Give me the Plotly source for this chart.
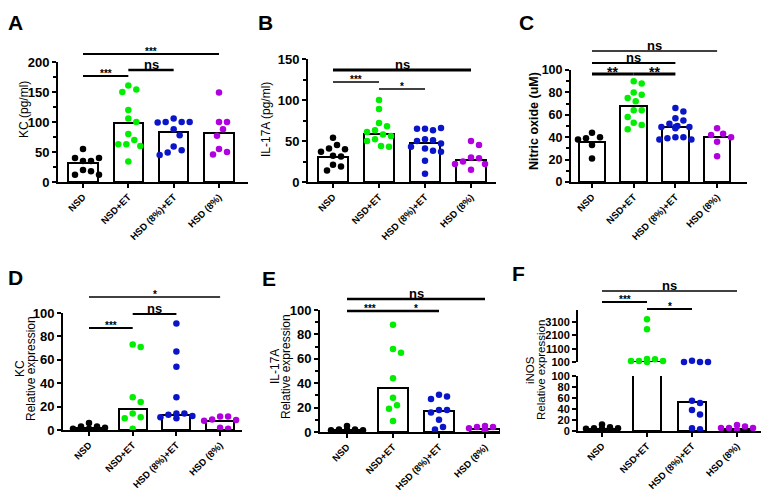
import plotly.graph_objects as go

W, H = 769, 491
FONT = "Liberation Sans, Arial, sans-serif"

groups = ["NSD", "NSD+ET", "HSD (8%)+ET", "HSD (8%)"]
group_colors = ["#000000", "#00ee00", "#0a14c8", "#b000e0"]

# ---------------- data ----------------
# A: KC (pg/ml)
kc_pg_nsd = [55, 35, 35, 40, 40, 20, 18, 12, 12]
kc_pg_nsd_et = [161, 154, 150, 120, 106, 100, 80, 70, 63, 63, 60, 34]
kc_pg_hsd_et = [106, 100, 100, 100, 99, 88, 78, 59, 53, 49, 45]
kc_pg_hsd = [149, 100, 100, 88, 77, 55, 50, 46]
kc_pg_bars = [32, 99, 83, 82]

# B: IL-17A (pg/ml)
il17_pg_nsd = [54, 45, 41, 40, 37, 32, 31, 21, 19, 14]
il17_pg_nsd_et = [100, 89, 72, 68, 63, 61, 58, 56, 52, 50, 44, 43]
il17_pg_hsd_et = [65, 63, 65, 66, 52, 51, 50, 47, 43, 41, 38, 37, 26, 10]
il17_pg_hsd = [50, 45, 30, 29, 25, 22, 22, 15]
il17_pg_bars = [31, 58, 47, 27]

# C: Nitric oxide (uM)
no_nsd = [44, 40, 39, 38, 33, 21]
no_nsd_et = [90, 88, 80, 78, 75, 72, 64, 64, 58, 53, 51, 47]
no_hsd_et = [66, 63, 57, 55, 52, 50, 49, 49, 49, 48, 40, 40, 39, 38, 38]
no_hsd = [48, 43, 42, 40, 36, 23]
no_bars = [36, 68, 49, 40]

# D: KC relative expression
kc_rel_nsd = [6, 3, 3, 2, 1, 1]
kc_rel_nsd_et = [73, 71, 28, 24, 14, 11, 10, 1]
kc_rel_hsd_et = [91, 67, 54, 28, 14, 14, 13, 12, 11, 10]
kc_rel_hsd = [11.5, 11.5, 9, 8.5, 8, 2, 1]
kc_rel_bars = [2, 18, 13, 7.7]

# E: IL-17A relative expression
il17_rel_nsd = [5, 2, 2, 1.5, 1.5, 1, 1, 1.5, 1]
il17_rel_nsd_et = [88, 68, 65, 44, 28, 22, 19, 9]
il17_rel_hsd_et = [30.5, 29, 27, 18, 18, 16, 10, 4, 2]
il17_rel_hsd = [5, 4, 4, 3, 3, 2, 2, 1, 1]
il17_rel_bars = [1.5, 36, 17.5, 2.5]

# F: iNOS relative expression (broken axis)
inos_rel_nsd = [12, 7, 5, 5, 4, 4, 3, 2]
inos_rel_nsd_et = [3310, 2560, 320, 300, 175, 175, 175, 175, 105]
inos_rel_hsd_et = [200, 105, 105, 105, 55, 51, 38, 30, 5, 3]
inos_rel_hsd = [11, 8, 5.5, 5.5, 5.5, 2]
inos_rel_bars = [4, 120, 52, 4]

# ---------------- layout specs (pixels) ----------------
panels = [
    dict(letter="A", lpos=(15, 22), data=[kc_pg_nsd, kc_pg_nsd_et, kc_pg_hsd_et, kc_pg_hsd], bars=kc_pg_bars,
         x0=58, x1=248, c0=83, sp=45.33, segs=[(62, 182, 0, 200)], dtick=50, minor=25, tfs=13,
         title=["KC (pg/ml)"], tx=[24], ty=110, tsize=12, tbold=False,
         sig=[(0, 3, 54, "***", 2), (0, 1, 76, "***", 2), (1, 2, 70, "ns", 2.5)], star=10),
    dict(letter="B", lpos=(265, 22), data=[il17_pg_nsd, il17_pg_nsd_et, il17_pg_hsd_et, il17_pg_hsd], bars=il17_pg_bars,
         x0=308, x1=496, c0=333, sp=46, segs=[(59, 182, 0, 150)], dtick=50, minor=25, tfs=13,
         title=["IL-17A (pg/ml)"], tx=[266], ty=120, tsize=12, tbold=False,
         sig=[(0, 3, 70, "ns", 3), (0, 1, 82, "***", 1.5), (1, 2, 89, "*", 1.5)], star=10),
    dict(letter="C", lpos=(526, 22), data=[no_nsd, no_nsd_et, no_hsd_et, no_hsd], bars=no_bars,
         x0=571, x1=747, c0=592, sp=41.7, segs=[(70, 182, 0, 100)], dtick=20, minor=10, tfs=12.5,
         title=["Nitric oxide (uM)"], tx=[534], ty=121, tsize=12.5, tbold=True,
         sig=[(0, 3, 51, "ns", 1.5), (0, 2, 63, "ns", 2), (0, 1, 74, "**", 3), (1, 2, 74, "**", 3)], star=14),
    dict(letter="D", lpos=(15, 277), data=[kc_rel_nsd, kc_rel_nsd_et, kc_rel_hsd_et, kc_rel_hsd], bars=kc_rel_bars,
         x0=63, x1=242, c0=89, sp=43.7, segs=[(313, 430, 0, 100)], dtick=20, minor=None, tfs=13,
         title=["KC", "Relative expression"], tx=[20, 31], ty=369, tsize=12, tbold=False,
         sig=[(0, 3, 297, "*", 1.5), (0, 1, 328, "***", 2), (1, 2, 314, "ns", 2)], star=10),
    dict(letter="E", lpos=(269, 278), data=[il17_rel_nsd, il17_rel_nsd_et, il17_rel_hsd_et, il17_rel_hsd], bars=il17_rel_bars,
         x0=320, x1=500, c0=347, sp=46, segs=[(310, 432, 0, 100)], dtick=20, minor=10, tfs=13,
         title=["IL-17A", "Relative expression"], tx=[275, 286], ty=367, tsize=12, tbold=False,
         sig=[(0, 3, 299, "ns", 2.5), (0, 1, 311, "***", 2.5), (1, 2, 311, "*", 2.5)], star=10),
    dict(letter="F", lpos=(518, 273), data=[inos_rel_nsd, inos_rel_nsd_et, inos_rel_hsd_et, inos_rel_hsd], bars=inos_rel_bars,
         x0=578, x1=761, c0=602, sp=45, segs=[(376, 431, 0, 100), (310, 362, 100, 4000)], dtick=20, minor=None, tfs=11,
         title=["iNOS", "Relative expression"], tx=[530, 541], ty=370, tsize=11.5, tbold=False,
         sig=[(0, 3, 291, "ns", 1.5), (0, 1, 302, "***", 2), (1, 2, 309, "*", 2)], star=10),
]


def px_x(p):
    return p / W


def px_y(p):
    return 1 - p / H


def seg_of(segs, v):
    if len(segs) == 1 or v <= segs[0][3]:
        return 0
    return 1


def ypx(segs, v):
    top, bot, lo, hi = segs[seg_of(segs, v)]
    return bot - (v - lo) / (hi - lo) * (bot - top)


def swarm(vals, segs, sp, d=8.0, maxoff=0.42):
    placed, offs = [], []
    for v in vals:
        y = ypx(segs, v)
        chosen = 0.0
        for k in range(0, 80):
            cands = [0.0] if k == 0 else [k * d * 0.25, -k * d * 0.25]
            ok = None
            for o in cands:
                if abs(o) / sp > maxoff:
                    continue
                if all((o - po) ** 2 + (y - py) ** 2 >= d * d for po, py in placed):
                    ok = o
                    break
            if ok is not None:
                chosen = ok
                break
        placed.append((chosen, y))
        offs.append(chosen / sp)
    return offs


fig = go.Figure()
layout = dict(width=W, height=H, margin=dict(l=0, r=0, t=0, b=0), paper_bgcolor="white",
              plot_bgcolor="rgba(0,0,0,0)", showlegend=False, bargap=0)
annotations, shapes = [], []
cats = list(range(len(groups)))

for k, p in enumerate(panels, start=1):
    sfx = "" if k == 1 else str(k)
    xid, yid = "x" + sfx, "y" + sfx
    ylist = [(yid, p["segs"][0])]
    if len(p["segs"]) > 1:
        ylist.append(("y7", p["segs"][1]))

    layout["xaxis" + sfx] = dict(
        domain=[px_x(p["x0"]), px_x(p["x1"])],
        range=[(p["x0"] - p["c0"]) / p["sp"], (p["x1"] - p["c0"]) / p["sp"]],
        anchor=yid, tickmode="array", tickvals=cats, ticktext=groups, tickangle=-45,
        tickfont=dict(family=FONT, size=9.5, color="black", weight="bold"),
        ticks="outside", ticklen=4, tickwidth=2, tickcolor="black",
        showline=True, linewidth=2, linecolor="black", showgrid=False, zeroline=False, automargin=False)

    for si, (yname, (top, bot, lo, hi)) in enumerate(ylist):
        ax = dict(domain=[px_y(bot), px_y(top)], range=[lo, hi], anchor=xid,
                  ticks="outside", ticklen=4, tickwidth=2, tickcolor="black",
                  showline=True, linewidth=2, linecolor="black", showgrid=False, zeroline=False,
                  automargin=False,
                  tickfont=dict(family=FONT, size=p["tfs"], color="black", weight="bold"))
        if si == 0:
            ax.update(tick0=0, dtick=p["dtick"])
        else:
            ax.update(tickmode="array", tickvals=[100, 1100, 2100, 3100])
        if p["minor"]:
            ax["minor"] = dict(ticks="outside", dtick=p["minor"], ticklen=3, tickwidth=1.5, tickcolor="black")
        key = "yaxis" + (yname[1:] if yname != "y" else "")
        layout[key] = ax

    # bars (drawn on each segment; clipped by its range)
    for yname, _ in ylist:
        fig.add_trace(go.Bar(x=cats, y=p["bars"], width=0.64, xaxis=xid, yaxis=yname,
                             marker=dict(color="white", line=dict(color="black", width=2)),
                             cliponaxis=True, hoverinfo="skip"))
    # dots
    for gi, vals in enumerate(p["data"]):
        offs = swarm(vals, p["segs"], p["sp"])
        for si, (yname, _) in enumerate(ylist):
            xs = [gi + o for o, v in zip(offs, vals) if seg_of(p["segs"], v) == si]
            ys = [v for v in vals if seg_of(p["segs"], v) == si]
            if not xs:
                continue
            fig.add_trace(go.Scatter(x=xs, y=ys, mode="markers", xaxis=xid, yaxis=yname,
                                     cliponaxis=False,
                                     marker=dict(size=6.5, color=group_colors[gi], line=dict(width=0))))

    # panel letter
    annotations.append(dict(text="<b>%s</b>" % p["letter"], xref="paper", yref="paper",
                            x=px_x(p["lpos"][0]), y=px_y(p["lpos"][1]), showarrow=False,
                            xanchor="center", yanchor="middle",
                            font=dict(family=FONT, size=21, color="black")))
    # axis title(s)
    for t, tx in zip(p["title"], p["tx"]):
        annotations.append(dict(text=("<b>%s</b>" % t) if p["tbold"] else t, xref="paper", yref="paper",
                                x=px_x(tx), y=px_y(p["ty"]), textangle=-90, showarrow=False,
                                xanchor="center", yanchor="middle",
                                font=dict(family=FONT, size=p["tsize"], color="black")))
    # significance bars
    for i, j, ly, txt, lw in p["sig"]:
        shapes.append(dict(type="line", xref=xid, yref="paper", x0=i, x1=j,
                           y0=px_y(ly), y1=px_y(ly), line=dict(color="black", width=lw)))
        if txt == "ns":
            size, dy = 13, -5.5
        else:
            size, dy = p["star"], -2.5
        annotations.append(dict(text="<b>%s</b>" % txt, xref=xid, yref="paper",
                                x=(i + j) / 2, y=px_y(ly + dy), showarrow=False, borderpad=0,
                                xanchor="center", yanchor="middle",
                                font=dict(family=FONT, size=size, color="black")))

layout["annotations"] = annotations
layout["shapes"] = shapes
fig.update_layout(**layout)
fig.write_html("out.html", config={"displayModeBar": False},
               post_script="document.body.style.margin='0';document.body.style.overflow='hidden';")
